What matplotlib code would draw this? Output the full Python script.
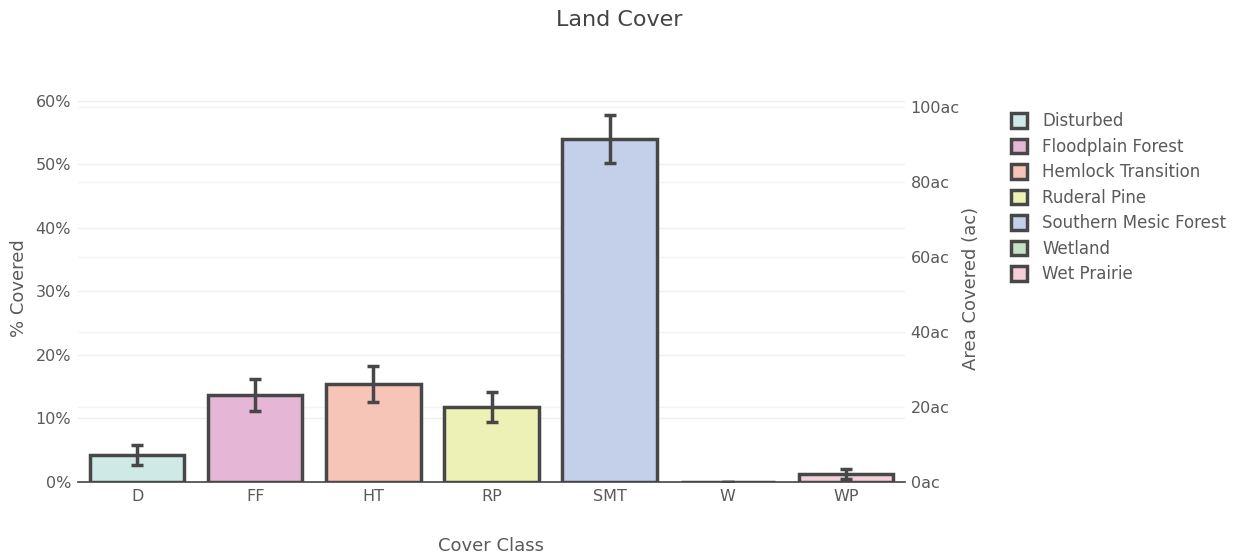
import matplotlib
matplotlib.use("Agg")
import matplotlib.pyplot as plt
from matplotlib.patches import Patch
from matplotlib.ticker import FuncFormatter

categories = ["D", "FF", "HT", "RP", "SMT", "W", "WP"]
names = ["Disturbed", "Floodplain Forest", "Hemlock Transition", "Ruderal Pine",
         "Southern Mesic Forest", "Wetland", "Wet Prairie"]
pct_covered = [4.2, 13.7, 15.4, 11.8, 54.0, 0.05, 1.2]
pct_error = [1.6, 2.5, 2.8, 2.4, 3.8, 0.0, 0.8]
colors = ["#cfeae6", "#e6b6d6", "#f7c4b8", "#eef1b6", "#c4d0ea", "#c6e0c6", "#f6d0d9"]
left_ticks = [0, 10, 20, 30, 40, 50, 60]
right_ticks = [0, 20, 40, 60, 80, 100]
left_max = 60.94
right_max = 103.2

plt.rcParams['font.family'] = ['DejaVu Sans']
txt = "#5a5a5a"
edge = "#474747"

fig = plt.figure(figsize=(12.39, 5.59), dpi=100)
ax = fig.add_axes([78 / 1239, 77 / 559, 827 / 1239, 387 / 559])
x = list(range(len(categories)))
for i in x:
    ax.bar(i, pct_covered[i], width=0.8, color=colors[i], edgecolor=edge, linewidth=2.5, zorder=3)
ax.errorbar(x, pct_covered, yerr=pct_error, fmt="none", ecolor=edge, elinewidth=2.5,
            capsize=4, capthick=2.5, zorder=4)
ax.set_xlim(-0.5, 6.5)
ax.set_ylim(0, left_max)
ax.set_yticks(left_ticks)
ax.yaxis.set_major_formatter(FuncFormatter(lambda v, p: f"{int(v)}%"))
ax.set_xticks(x)
ax.set_xticklabels(categories)
ax.tick_params(axis="both", length=0, labelsize=11.5, labelcolor=txt, pad=5)
ax.grid(axis="y", color="#efefef", linewidth=1, zorder=0)
for s in ["top", "right", "left"]:
    ax.spines[s].set_visible(False)
ax.spines["bottom"].set_color("#444444")
ax.spines["bottom"].set_linewidth(1.2)
ax.set_ylabel("% Covered", fontsize=13, color=txt, labelpad=5)

ax2 = ax.twinx()
ax2.set_ylim(0, right_max)
ax2.set_yticks(right_ticks)
ax2.yaxis.set_major_formatter(FuncFormatter(lambda v, p: f"{int(v)}ac"))
ax2.tick_params(axis="y", length=0, labelsize=11.5, labelcolor=txt, pad=4)
ax2.grid(axis="y", color="#f4f4f4", linewidth=1, zorder=0)
for s in ["top", "right", "left", "bottom"]:
    ax2.spines[s].set_visible(False)
ax2.set_ylabel("Area Covered (ac)", fontsize=13, color=txt, labelpad=2)
ax.set_zorder(ax2.get_zorder() + 1)
ax.patch.set_visible(False)

fig.text(491 / 1239, 1 - 546 / 559, "Cover Class", ha="center", va="center", fontsize=13, color=txt)

handles = [Patch(facecolor=c, edgecolor=edge, linewidth=2.5) for c in colors]
leg = fig.legend(handles, names, loc="upper left", bbox_to_anchor=(1003 / 1239, 1 - 104 / 559),
                 frameon=False, fontsize=12, labelcolor=txt, handlelength=0.95,
                 handleheight=0.95, handletextpad=0.9, labelspacing=0.45, borderpad=0)

fig.text(0.5, 1 - 20 / 559, "Land Cover", ha="center", va="center", fontsize=16, color="#444444")
fig.savefig("out.png", dpi=100, facecolor="white")
